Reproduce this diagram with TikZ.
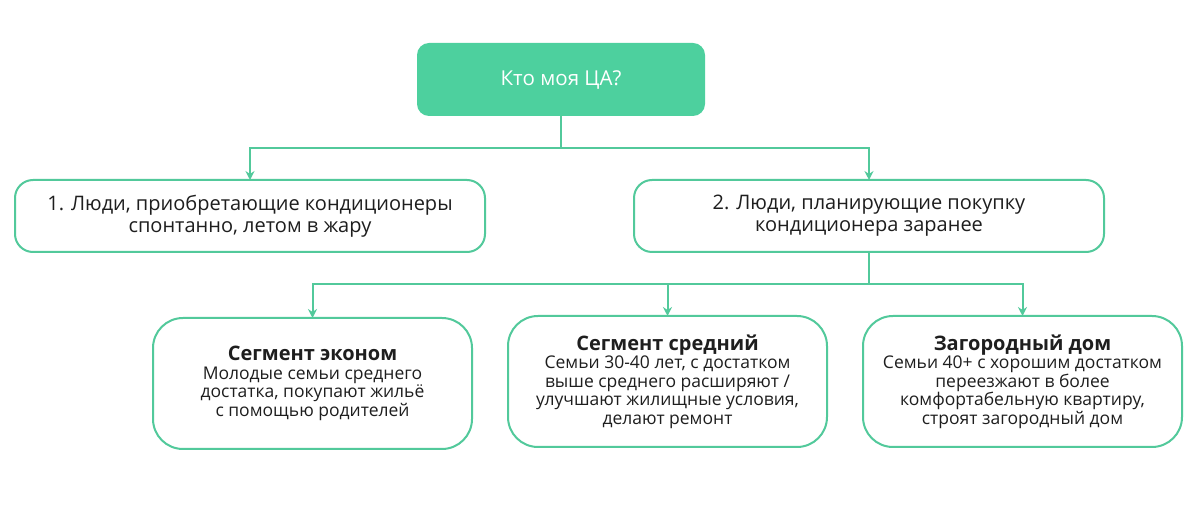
\documentclass[tikz,border=0pt]{standalone}
\usepackage{fontspec}
\setmainfont{Open Sans}
\usetikzlibrary{arrows.meta,positioning,calc}
\definecolor{ca}{HTML}{4DD09E}
\definecolor{cl}{HTML}{52C99B}
\definecolor{tx}{HTML}{1E1E1E}
\tikzset{
  topbox/.style={draw=none,fill=ca,rounded corners=12pt,minimum width=288pt,minimum height=73pt,text=white,font=\fontsize{20.5}{24}\selectfont,anchor=north west,outer sep=0pt},
  midbox/.style={draw=cl,line width=2pt,fill=white,rounded corners=18pt,minimum width=470pt,minimum height=72pt,text=tx,align=center,font=\fontsize{20}{22}\selectfont,anchor=north west,outer sep=0pt},
  segbox/.style={draw=cl,line width=2pt,fill=white,rounded corners=30pt,minimum width=319pt,minimum height=131pt,text=tx,align=center,font=\fontsize{17.5}{18.5}\selectfont,anchor=north west,outer sep=0pt},
  segtitle/.style={font=\fontsize{20}{22}\selectfont\bfseries},
  conn/.style={draw=cl,line width=2pt},
  arr/.style={conn,-{Stealth[length=9pt,width=9pt]}},
}
\newcommand{\segt}[1]{{\fontsize{20}{21}\selectfont\bfseries #1}}
\begin{document}
\begin{tikzpicture}[x=1pt,y=-1pt]
\useasboundingbox (0,0) rectangle (1200,526);
\node[topbox] (top) at (417,43) {Кто моя ЦА?};
\node[midbox] (b1) at (15,180) {1. Люди, приобретающие кондиционеры\\спонтанно, летом в жару};
\node[midbox] (b2) at (634,180) {2. Люди, планирующие покупку\\кондиционера заранее};
\node[segbox] (s1) at (153,318) {\segt{Сегмент эконом}\\Молодые семьи среднего\\достатка, покупают жильё\\с помощью родителей};
\node[segbox] (s2) at (508,316) {\segt{Сегмент средний}\\Семьи 30-40 лет, с достатком\\выше среднего расширяют /\\улучшают жилищные условия,\\делают ремонт};
\node[segbox] (s3) at (863,316) {\segt{Загородный дом}\\Семьи 40+ с хорошим достатком\\переезжают в более\\комфортабельную квартиру,\\строят загородный дом};
\coordinate (j1) at ($(top.south)+(0,32)$);
\coordinate (j2) at ($(b2.south)+(0,32)$);
\draw[conn] (top.south) -- (j1);
\draw[arr] (j1) -| (b1.north);
\draw[arr] (j1) -| (b2.north);
\draw[conn] (b2.south) -- (j2);
\draw[arr] (j2) -| (s1.north);
\draw[arr] (j2) -| (s2.north);
\draw[arr] (j2) -| (s3.north);
\end{tikzpicture}
\end{document}
